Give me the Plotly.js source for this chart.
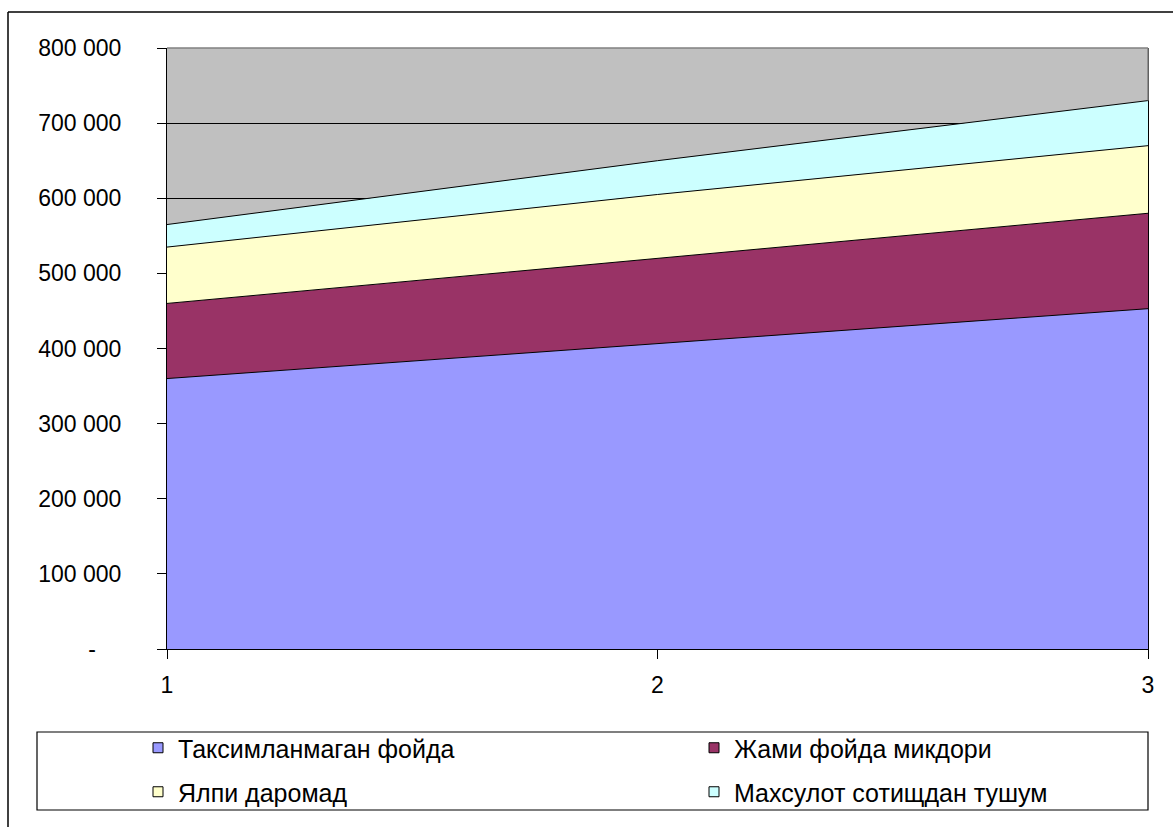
<!DOCTYPE html>
<html>
<head>
<meta charset="utf-8">
<script src="https://cdn.plot.ly/plotly-3.0.1.min.js"></script>
<style>
  html, body { margin: 0; padding: 0; background: #ffffff; }
  #chart { width: 1173px; height: 827px; }
</style>
</head>
<body>
<div id="chart"></div>
<script>
// ---- data ----
const categories = [1, 2, 3];
const seriesNames = ["Таксимланмаган фойда", "Жами фойда микдори", "Ялпи даромад", "Махсулот сотищдан тушум"];
const taksimlanmagan = [360000, 406000, 453000];
const jamiFoyda = [100000, 114000, 127000];
const yalpiDaromad = [75000, 85000, 90000];
const mahsulotTushum = [30000, 45000, 60000];
const yTickVals = [0, 100000, 200000, 300000, 400000, 500000, 600000, 700000, 800000];
const yTickText = ["-\u00a0\u00a0\u00a0\u00a0", "100 000", "200 000", "300 000", "400 000", "500 000", "600 000", "700 000", "800 000"];
const xTickVals = [1, 2, 3];
const xTickText = ["1", "2", "3"];

// ---- styles ----
const colors = ["#9999FF", "#993366", "#FFFFCC", "#CCFFFF"];
const seriesValues = [taksimlanmagan, jamiFoyda, yalpiDaromad, mahsulotTushum];
const legendIds = ["legend", "legend2", "legend3", "legend4"];
const FONT = "Liberation Sans, Arial, sans-serif";

// plot area in pixels
const W = 1173, H = 827;
const L = 167, R = 1148, T = 48, B = 649;
const px = x => (x - L) / (R - L);
const py = y => (B - y) / (B - T);

const traces = [];
seriesValues.forEach((vals, i) => {
  traces.push({
    type: "scatter",
    x: categories,
    y: vals,
    name: seriesNames[i],
    stackgroup: "one",
    mode: "lines",
    line: { color: "#000000", width: 1 },
    fillcolor: colors[i],
    showlegend: false,
    hoverinfo: "skip"
  });
});
seriesValues.forEach((vals, i) => {
  traces.push({
    type: "scatter",
    x: [null],
    y: [null],
    name: seriesNames[i],
    mode: "markers",
    marker: { symbol: "square", size: 10, color: colors[i], line: { color: "#000000", width: 1 } },
    legend: legendIds[i],
    showlegend: true
  });
});

const lastTotal = seriesValues.reduce((s, v) => s + v[v.length - 1], 0);

// legend item positions (pixels): [left, rowCenter]
const legendPos = [[138, 748], [694, 748], [138, 792], [694, 792]];
function legendCfg(i) {
  return {
    orientation: "h",
    bgcolor: "rgba(0,0,0,0)",
    borderwidth: 0,
    font: { family: FONT, size: 25, color: "#000000" },
    xanchor: "left",
    yanchor: "middle",
    x: px(legendPos[i][0]),
    y: py(legendPos[i][1])
  };
}

const layout = {
  width: W,
  height: H,
  margin: { l: L, r: W - R, t: T, b: H - B, pad: 0, autoexpand: false },
  paper_bgcolor: "#ffffff",
  plot_bgcolor: "#C0C0C0",
  font: { family: FONT, size: 23, color: "#000000" },
  showlegend: true,
  xaxis: {
    range: [1, 3],
    tickvals: xTickVals,
    ticktext: xTickText,
    ticks: "outside",
    ticklen: 9,
    tickwidth: 1,
    tickcolor: "#000000",
    showline: true,
    linecolor: "#000000",
    linewidth: 1,
    showgrid: false,
    zeroline: false,
    ticklabelstandoff: 6,
    tickfont: { family: FONT, size: 23, color: "#000000" },
    fixedrange: true
  },
  yaxis: {
    range: [0, 800000],
    tickvals: yTickVals,
    ticktext: yTickText,
    ticks: "outside",
    ticklen: 9,
    tickwidth: 1,
    tickcolor: "#000000",
    showline: true,
    linecolor: "#000000",
    linewidth: 1,
    mirror: true,
    showgrid: true,
    gridcolor: "#000000",
    gridwidth: 1,
    zeroline: false,
    ticklabelstandoff: 31,
    tickfont: { family: FONT, size: 23, color: "#000000" },
    fixedrange: true
  },
  legend: legendCfg(0),
  legend2: legendCfg(1),
  legend3: legendCfg(2),
  legend4: legendCfg(3),
  shapes: [
    // plot area top border (gray)
    { type: "line", xref: "paper", yref: "paper", x0: 0, x1: 1, y0: 1, y1: 1,
      line: { color: "#808080", width: 1.5 }, layer: "above" },
    // plot area right border above the stacked areas (gray)
    { type: "line", xref: "paper", yref: "y", x0: 1, x1: 1, y0: lastTotal, y1: 800000,
      line: { color: "#808080", width: 1.5 }, layer: "above" },
    // legend box
    { type: "rect", xref: "paper", yref: "paper", x0: px(37), x1: px(1148), y0: py(810), y1: py(732),
      line: { color: "#000000", width: 1.2 }, fillcolor: "rgba(0,0,0,0)", layer: "below" },
    // outer chart frame (left and top edges)
    { type: "line", xref: "paper", yref: "paper", x0: px(8), x1: px(8), y0: py(12), y1: py(830),
      line: { color: "#000000", width: 1.5 } },
    { type: "line", xref: "paper", yref: "paper", x0: px(8), x1: px(1176), y0: py(12), y1: py(12),
      line: { color: "#000000", width: 1.5 } }
  ]
};

Plotly.newPlot("chart", traces, layout, { displayModeBar: false, staticPlot: true });
</script>
</body>
</html>
